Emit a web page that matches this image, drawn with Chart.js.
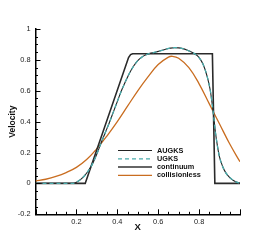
<!DOCTYPE html>
<html><head><meta charset="utf-8">
<script src="https://cdn.jsdelivr.net/npm/chart.js@4.4.1/dist/chart.umd.min.js"></script>
<style>html,body{margin:0;padding:0;background:#fff}#wrap{width:273px;height:242px}</style>
</head><body><div id="wrap"><canvas id="c" width="273" height="242"></canvas></div>
<script>
// ---- data ----
const seriesNames = ["AUGKS", "UGKS", "continuum", "collisionless"];
const smoothX = [0, 0.18, 0.19, 0.2, 0.22, 0.24, 0.26, 0.28, 0.3, 0.32, 0.34, 0.36, 0.38, 0.4, 0.42, 0.44, 0.46, 0.48, 0.5, 0.52, 0.54, 0.56, 0.58, 0.6, 0.62, 0.64, 0.66, 0.68, 0.7, 0.72, 0.74, 0.76, 0.78, 0.8, 0.82, 0.84, 0.855, 0.87, 0.88, 0.89, 0.9, 0.915, 0.93, 0.95, 0.97, 0.99, 1.0];
const smoothY = [0, 0, 0.002, 0.008, 0.025, 0.05, 0.085, 0.13, 0.19, 0.26, 0.325, 0.39, 0.46, 0.53, 0.60, 0.66, 0.715, 0.76, 0.795, 0.818, 0.833, 0.842, 0.848, 0.855, 0.862, 0.87, 0.876, 0.879, 0.878, 0.873, 0.864, 0.852, 0.838, 0.815, 0.77, 0.69, 0.6, 0.45, 0.33, 0.24, 0.17, 0.11, 0.07, 0.038, 0.017, 0.005, 0.002];
const sharpX = [0, 0.243, 0.455, 0.465, 0.475, 0.865, 0.877, 1.0];
const sharpY = [0, 0, 0.815, 0.834, 0.84, 0.84, 0, 0];
const collX = [0, 0.05, 0.1, 0.15, 0.2, 0.25, 0.3, 0.35, 0.4, 0.45, 0.5, 0.55, 0.6, 0.65, 0.67, 0.7, 0.75, 0.8, 0.85, 0.9, 0.95, 1.0];
const collY = [0.015, 0.027, 0.045, 0.07, 0.104, 0.155, 0.225, 0.308, 0.4, 0.5, 0.6, 0.69, 0.77, 0.818, 0.823, 0.81, 0.75, 0.645, 0.515, 0.385, 0.255, 0.14];
const xTickLabels = ["", "0.2", "0.4", "0.6", "0.8", ""];
const yTickLabels = ["-0.2", "0", "0.2", "0.4", "0.6", "0.8", "1"];
const xRange = [0, 1], yRange = [-0.2, 1], majorStep = 0.2, minorStep = 0.05;

const pts = (xs, ys) => xs.map((v, i) => ({x: v, y: ys[i]}));

const styles = [
  {color: '#222', width: 1.1, dash: [], tension: 0.35, mono: true},
  {color: '#4aacac', width: 1.3, dash: [4, 3], tension: 0.35, mono: true},
  {color: '#2a2a2a', width: 1.6, dash: [], tension: 0, mono: false},
  {color: '#c96d20', width: 1.3, dash: [], tension: 0.4, mono: false}
];
const dataSets = [pts(smoothX, smoothY), pts(smoothX, smoothY), pts(sharpX, sharpY), pts(collX, collY)];
const order = [2, 0, 1, 3];

const decor = {
  id: 'decor',
  afterDatasetsDraw(chart) {
    const {ctx, chartArea: a, scales: {x, y}} = chart;
    ctx.save();
    ctx.strokeStyle = '#000';
    ctx.lineWidth = 1;
    const ny = Math.round((yRange[1] - yRange[0]) / minorStep);
    for (let i = 0; i <= ny; i++) {
      const v = yRange[0] + i * minorStep;
      const py = Math.round(y.getPixelForValue(v)) + 0.5;
      const major = i % Math.round(majorStep / minorStep) === 0;
      ctx.beginPath(); ctx.moveTo(a.left, py); ctx.lineTo(a.left + (major ? 5 : 2.5), py); ctx.stroke();
    }
    const nx = Math.round((xRange[1] - xRange[0]) / minorStep);
    for (let i = 0; i <= nx; i++) {
      const v = xRange[0] + i * minorStep;
      const px = Math.round(x.getPixelForValue(v)) + 0.5;
      const major = i % Math.round(majorStep / minorStep) === 0;
      ctx.beginPath(); ctx.moveTo(px, a.bottom); ctx.lineTo(px, a.bottom - (major ? 5 : 2.5)); ctx.stroke();
    }
    // legend
    const lx1 = 118, lx2 = 152, tx = 157, ty0 = 150.5, dy = 8.3;
    ctx.font = 'bold 7.3px "Liberation Sans", Arial, sans-serif';
    ctx.textBaseline = 'middle';
    ctx.fillStyle = '#111';
    seriesNames.forEach((name, i) => {
      const s = styles[i];
      const yy = ty0 + i * dy;
      ctx.strokeStyle = i === 2 ? '#666' : s.color;
      ctx.lineWidth = i === 2 ? 2 : s.width;
      ctx.setLineDash(s.dash);
      ctx.beginPath(); ctx.moveTo(lx1, yy); ctx.lineTo(lx2, yy); ctx.stroke();
      ctx.setLineDash([]);
      ctx.fillText(name, tx, yy);
    });
    ctx.restore();
  }
};

new Chart(document.getElementById('c'), {
  type: 'line',
  data: {
    datasets: seriesNames.map((n, i) => ({
      label: n,
      data: dataSets[i],
      borderColor: styles[i].color,
      borderWidth: styles[i].width,
      borderDash: styles[i].dash,
      tension: styles[i].tension,
      cubicInterpolationMode: styles[i].mono ? 'monotone' : 'default',
      pointRadius: 0,
      fill: false,
      order: order[i]
    }))
  },
  options: {
    responsive: false,
    animation: false,
    events: [],
    layout: {padding: {top: 29, right: 33, left: 0, bottom: 0}},
    plugins: {legend: {display: false}, tooltip: {enabled: false}},
    scales: {
      x: {
        type: 'linear', min: xRange[0], max: xRange[1],
        afterFit: s => { s.height = 27.7; },
        grid: {display: false, drawTicks: false},
        border: {display: true, color: '#000', width: 1.5},
        ticks: {
          stepSize: majorStep, padding: 3, color: '#222', maxRotation: 0, autoSkip: false,
          font: {family: '"Liberation Sans", Arial, sans-serif', size: 7.4},
          callback: (v, i) => xTickLabels[i] ?? ''
        },
        title: {display: true, text: 'X', color: '#111', padding: {top: 0, bottom: 9},
          font: {family: '"Liberation Sans", Arial, sans-serif', size: 9.5, weight: 'bold'}}
      },
      y: {
        type: 'linear', min: yRange[0], max: yRange[1],
        afterFit: s => { s.width = 35.5; },
        grid: {display: false, drawTicks: false},
        border: {display: true, color: '#000', width: 1.5},
        ticks: {
          stepSize: majorStep, padding: 5, color: '#222', autoSkip: false,
          font: {family: '"Liberation Sans", Arial, sans-serif', size: 7.4},
          callback: (v, i) => yTickLabels[i] ?? ''
        },
        title: {display: true, text: 'Velocity', color: '#111', padding: {top: 8, bottom: 0},
          font: {family: '"Liberation Sans", Arial, sans-serif', size: 8.5, weight: 'bold'}}
      }
    }
  },
  plugins: [decor]
});
</script></body></html>
